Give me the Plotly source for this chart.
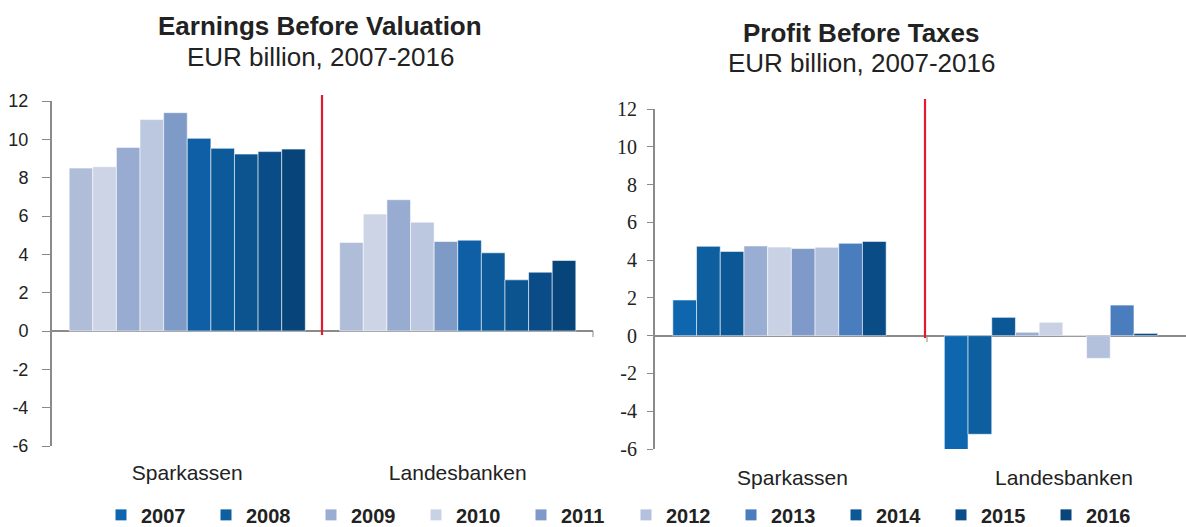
import plotly.graph_objects as go

# ---------------- data ----------------
categories = ["Sparkassen", "Landesbanken"]
years = ["2007", "2008", "2009", "2010", "2011", "2012", "2013", "2014", "2015", "2016"]

# Earnings Before Valuation (EUR bn), one value per bar slot
ebv_sparkassen = [8.50, 8.57, 9.58, 11.03, 11.39, 10.05, 9.53, 9.23, 9.36, 9.49]
ebv_landesbanken = [4.62, 6.10, 6.85, 5.68, 4.67, 4.74, 4.08, 2.67, 3.07, 3.68]

# Profit Before Taxes (EUR bn), nine bar slots per group as drawn
pbt_series = ["s1", "s2", "s3", "s4", "s5", "s6", "s7", "s8", "s9"]
pbt_sparkassen = [1.89, 4.73, 4.46, 4.75, 4.69, 4.61, 4.68, 4.89, 4.99]
pbt_landesbanken = [-6.07, -5.22, 0.97, 0.18, 0.71, 0.0, -1.20, 1.62, 0.12]

y_ticks = [-6, -4, -2, 0, 2, 4, 6, 8, 10, 12]
y_tick_text = ["-6", "-4", "-2", "0", "2", "4", "6", "8", "10", "12"]

# ---------------- styles ----------------
ebv_colors = ["#AFBDD9", "#CDD4E6", "#98ACD2", "#BCC8E0", "#7E9BC8",
              "#0E5FA5", "#0D5A9A", "#0C5490", "#0A4C88", "#07447A"]
pbt_colors = ["#0E67AE", "#0D5FA0", "#0C5896", "#9AAED3", "#C9D2E5",
              "#7F9AC8", "#B3C1DD", "#4A7DBD", "#0A4D86"]
legend_colors = ["#0E67AE", "#0D5FA0", "#9AAED3", "#C9D2E5", "#7F9AC8",
                 "#B3C1DD", "#4A7DBD", "#0C5896", "#0A4D88", "#08457A"]

W, H = 1186, 527
AX = "#8A8A8A"
TXT = "#222222"
RED = "#E3192F"
SANS = "Liberation Sans, Arial, sans-serif"
SERIF = "Liberation Serif, Times New Roman, serif"
BAR_W = 0.0873
EDGE = dict(color="rgba(255,255,255,0.55)", width=1)

fig = go.Figure()

n = len(ebv_sparkassen)
for i in range(n):
    fig.add_trace(go.Bar(
        x=categories, y=[ebv_sparkassen[i], ebv_landesbanken[i]],
        name=years[i], marker=dict(color=ebv_colors[i], line=EDGE),
        width=BAR_W, offset=-n * BAR_W / 2 + i * BAR_W,
        xaxis="x", yaxis="y", showlegend=False, hoverinfo="x+y"))

m = len(pbt_sparkassen)
for i in range(m):
    fig.add_trace(go.Bar(
        x=categories, y=[pbt_sparkassen[i], pbt_landesbanken[i]],
        name=pbt_series[i], marker=dict(color=pbt_colors[i], line=EDGE),
        width=BAR_W, offset=-m * BAR_W / 2 + i * BAR_W,
        xaxis="x2", yaxis="y2", showlegend=False, hoverinfo="x+y"))

# legend entries
for yr, c in zip(years, legend_colors):
    fig.add_trace(go.Scatter(
        x=[None], y=[None], mode="markers", name=yr,
        marker=dict(symbol="square", size=11, color=c),
        xaxis="x3", yaxis="y3", showlegend=True))

def px(x):
    return x / W

def py(y):
    return 1 - y / H

common_y = dict(range=[-6, 12], tickvals=y_ticks, ticktext=y_tick_text,
                showgrid=False,
                showline=True, linecolor=AX, linewidth=2,
                ticks="outside", tickcolor=AX, tickwidth=1,
                zeroline=True, zerolinecolor=AX, zerolinewidth=2,
                fixedrange=True)

fig.update_layout(
    width=W, height=H, autosize=False,
    margin=dict(l=0, r=0, t=0, b=0, autoexpand=False),
    paper_bgcolor="white", plot_bgcolor="white",
    barmode="overlay",
    xaxis=dict(domain=[px(52), px(593)], type="category", range=[-0.5, 1.5],
               showline=False, showgrid=False, zeroline=False, ticks="",
               tickfont=dict(family=SANS, size=21, color=TXT),
               ticklabelstandoff=12, anchor="y", fixedrange=True),
    yaxis=dict(domain=[py(446), py(101)], anchor="x", ticklen=8,
               tickfont=dict(family=SANS, size=18, color=TXT),
               ticklabelstandoff=10, **common_y),
    xaxis2=dict(domain=[px(655), 1.0], type="category",
                range=[-(779.5 - 655) / 271.5, (1186 - 779.5) / 271.5],
                showline=False, showgrid=False, zeroline=False, ticks="",
                tickfont=dict(family=SANS, size=21, color=TXT),
                ticklabelstandoff=14, ticklabelshift=13,
                anchor="y2", fixedrange=True),
    yaxis2=dict(domain=[py(449), py(109)], anchor="x2", ticklen=6,
                tickfont=dict(family=SERIF, size=20, color=TXT),
                ticklabelstandoff=6, **common_y),
    xaxis3=dict(domain=[0, 0.001], visible=False),
    yaxis3=dict(domain=[0, 0.001], visible=False),
    legend=dict(orientation="h", x=px(101), xanchor="left",
                y=-0.014, yanchor="bottom",
                font=dict(family=SANS, size=20, color=TXT, weight="bold"),
                entrywidth=60, entrywidthmode="pixels",
                itemwidth=30, tracegroupgap=0,
                bgcolor="rgba(0,0,0,0)", borderwidth=0),
    showlegend=True,
)

annotations = [
    dict(text="<b>Earnings Before Valuation</b>", x=px(320), y=py(26), size=26),
    dict(text="EUR billion, 2007-2016", x=px(320), y=py(57), size=26),
    dict(text="<b>Profit Before Taxes</b>", x=px(861), y=py(33), size=26),
    dict(text="EUR billion, 2007-2016", x=px(861), y=py(63), size=26),
]
for a in annotations:
    fig.add_annotation(text=a["text"], x=a["x"], y=a["y"], xref="paper", yref="paper",
                       xanchor="center", yanchor="middle", showarrow=False,
                       font=dict(family=SANS, size=a["size"], color=TXT))

# red dividers between the two groups
fig.add_shape(type="line", xref="paper", yref="paper",
              x0=px(322), x1=px(322), y0=py(95), y1=py(335),
              line=dict(color=RED, width=2.2), layer="above")
fig.add_shape(type="line", xref="paper", yref="paper",
              x0=px(925), x1=px(925), y0=py(99), y1=py(338),
              line=dict(color=RED, width=2.2), layer="above")
# small boundary ticks below the zero line
for tx, ty in [(593, 331), (927, 336)]:
    fig.add_shape(type="line", xref="paper", yref="paper",
                  x0=px(tx), x1=px(tx), y0=py(ty), y1=py(ty + 6),
                  line=dict(color=AX, width=1), layer="above")

fig.write_html("out.html", config={"displayModeBar": False},
               post_script="document.body.style.margin='0';")
